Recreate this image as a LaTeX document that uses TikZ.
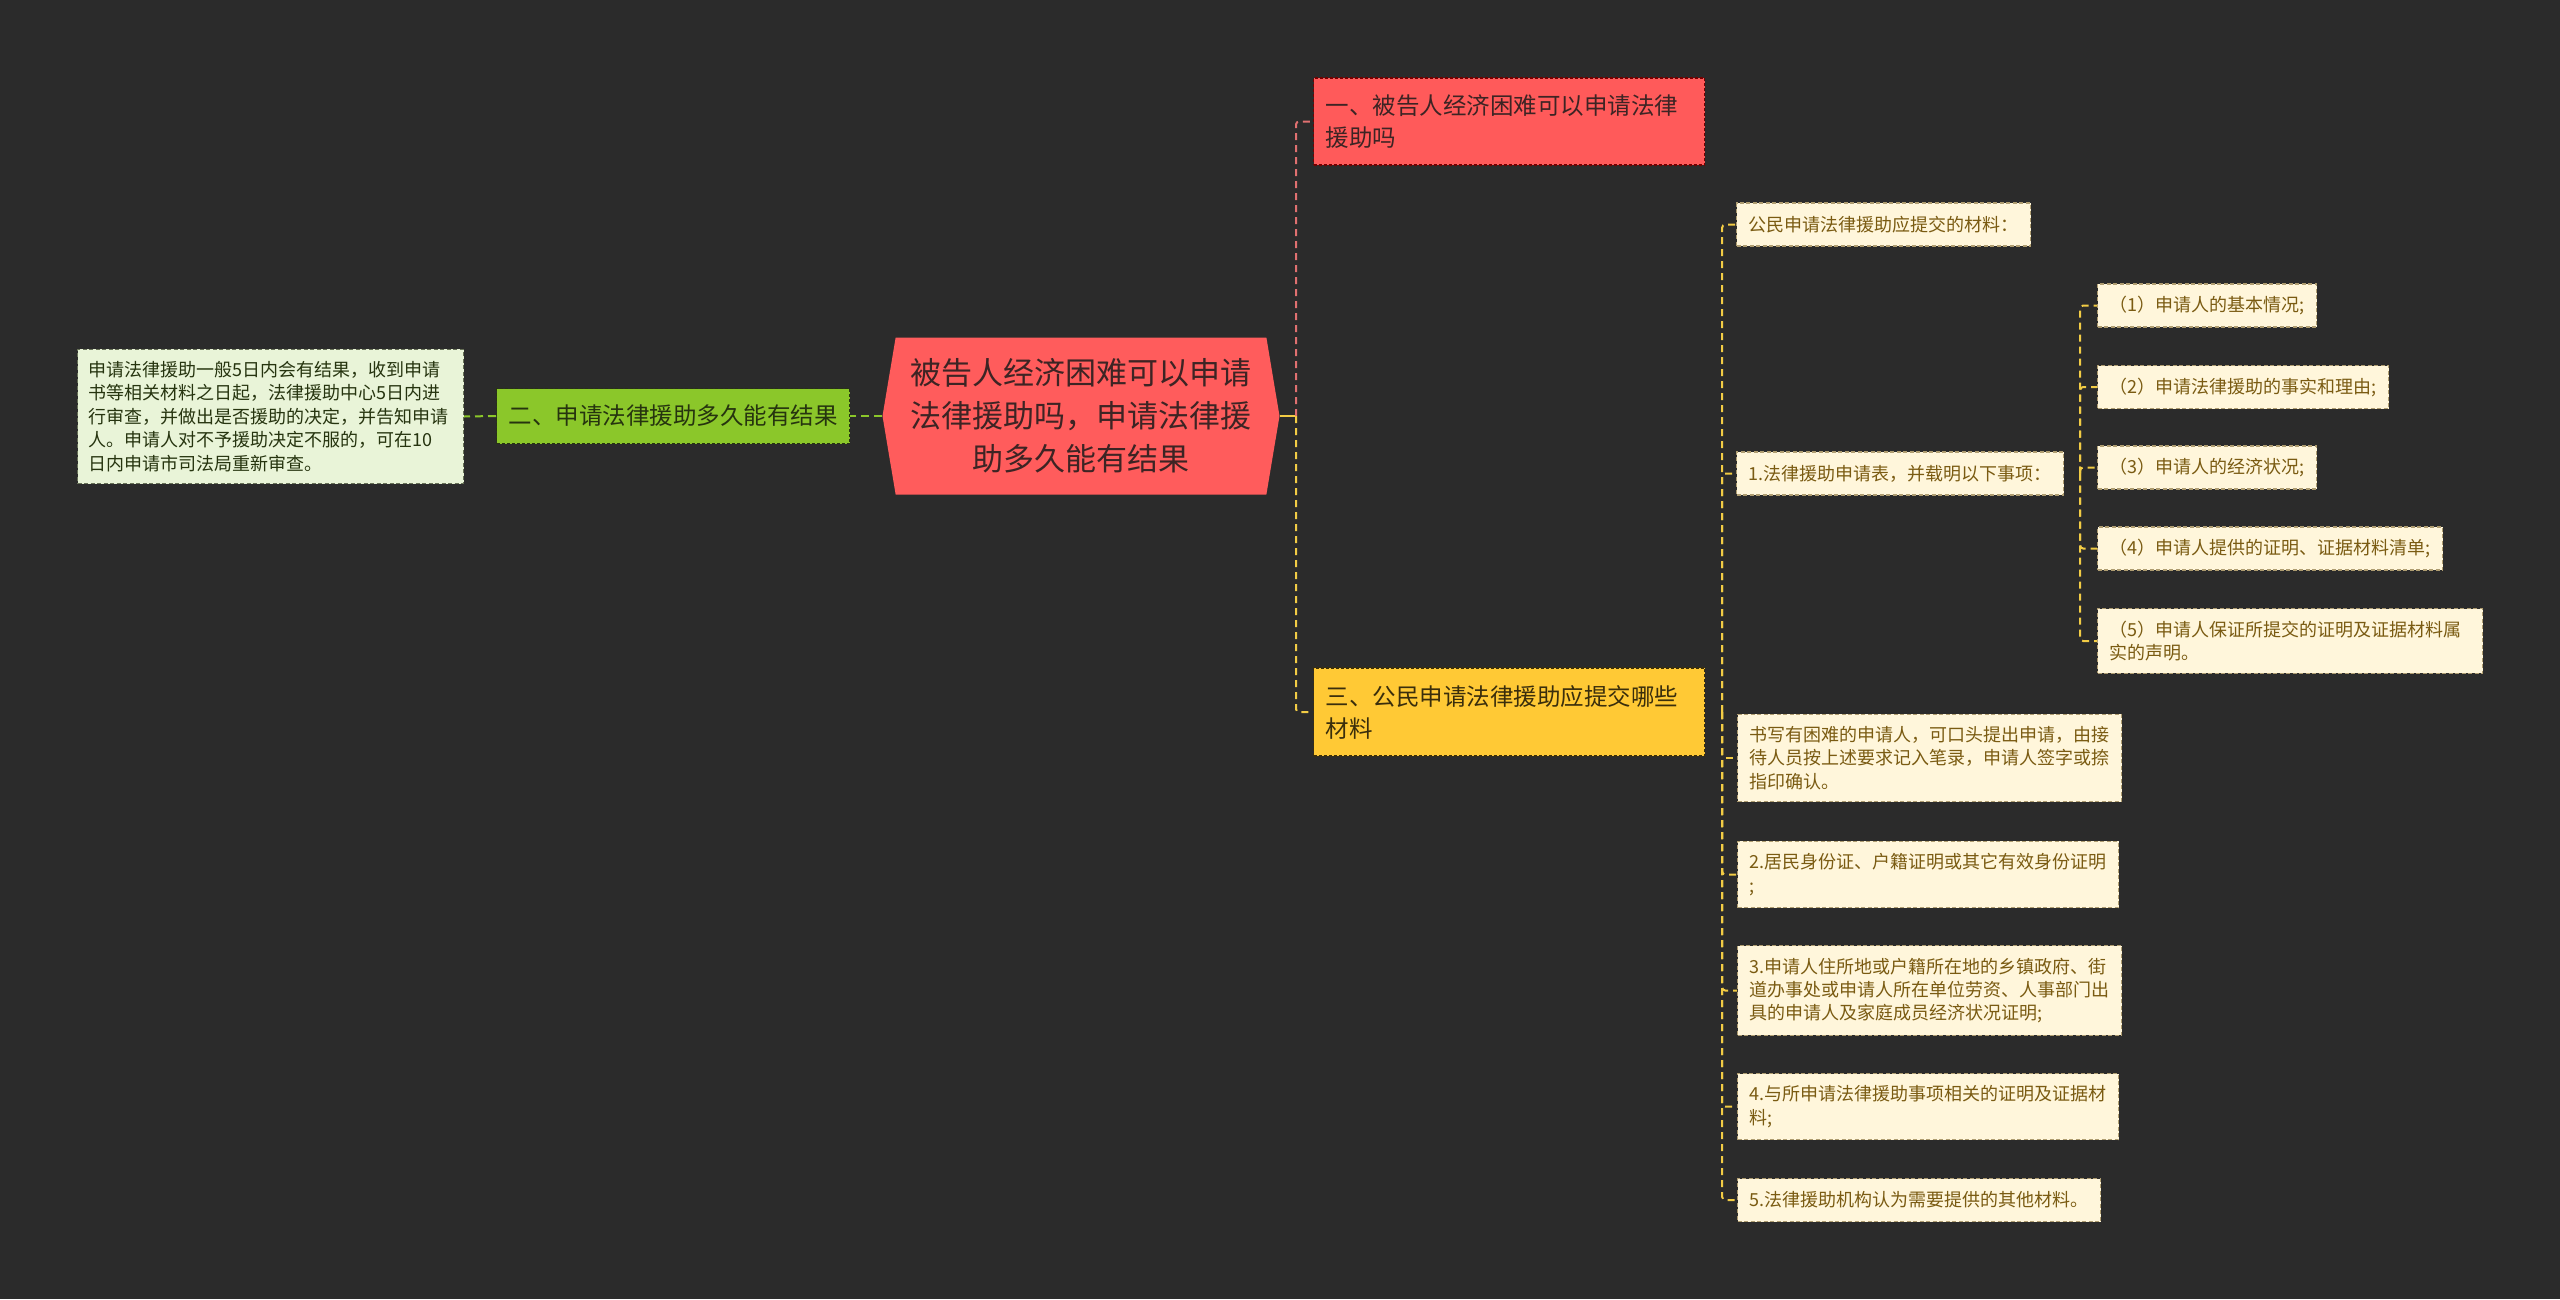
\documentclass[tikz,border=0pt]{standalone}
\usepackage{fontspec}
\setmainfont{Noto Sans CJK SC}
\usepackage{xcolor}
\usetikzlibrary{positioning, calc, shapes.symbols}
\definecolor{canvas}   {HTML}{2B2B2B}
\definecolor{topic}    {HTML}{FF5C5C}
\definecolor{topicink} {HTML}{3D2424}
\definecolor{redbr}    {HTML}{FF5A5A}
\definecolor{redline}  {HTML}{E07070}
\definecolor{greenbr}  {HTML}{8BC72A}
\definecolor{greenink} {HTML}{26340F}
\definecolor{greenleaf}{HTML}{E9F4D8}
\definecolor{yellowbr} {HTML}{FFC935}
\definecolor{yellowink}{HTML}{3A2E0C}
\definecolor{cream}    {HTML}{FFF6DB}
\definecolor{creamink} {HTML}{7A5B12}
\definecolor{yline}    {HTML}{F2CC45}

\begin{document}
\begin{tikzpicture}[x=1pt, y=-1pt,
  % Centre topic: a flat hexagon, pointed on both sides.
  rootbox/.style={shape=signal, signal to=west and east, signal pointer angle=161,
                  fill=topic, minimum width=397pt, minimum height=157pt, inner sep=0pt,
                  align=center, text=topicink, font=\fontsize{31}{43}\selectfont},
  branch/.style={draw, densely dashed, line width=1.2pt, anchor=west, align=left,
                 inner xsep=12pt, inner ysep=10pt, minimum height=55pt,
                 font=\fontsize{23.5}{32}\selectfont},
  leaf/.style={draw=#1, dash pattern=on 4pt off 2.5pt, line width=1.2pt, anchor=west,
               align=left, inner xsep=12pt, inner ysep=12pt, minimum height=43pt,
               font=\fontsize{18}{23.4}\selectfont},
  gline/.style={greenbr, line width=2pt, dash pattern=on 8pt off 5pt},
  rline/.style={redline, line width=2pt, dash pattern=on 7pt off 5pt},
  yyline/.style={yline, line width=2pt, dash pattern=on 7pt off 5pt, rounded corners=3pt}
]
\fill[canvas] (0,0) rectangle (2560,1299);
\useasboundingbox (0,0) rectangle (2560,1299);

% --- Centre topic ---
\node[rootbox] (root) at (1081,416) {被告人经济困难可以申请\\法律援助吗，申请法律援\\助多久能有结果};

% --- Main branches ---
\node[branch, fill=redbr, draw=red!45!black, text=topicink, text width=367pt,
      minimum height=87pt] (b1) at (1313,121.5) {一、被告人经济困难可以申请法律\\援助吗};
\node[branch, fill=greenbr, draw=greenink, text=greenink] (b2) at (496,416) {二、申请法律援助多久能有结果};
\node[branch, fill=yellowbr, draw=yellowink, text=yellowink, text width=367pt,
      minimum height=88pt] (b3) at (1313,712) {三、公民申请法律援助应提交哪些\\材料};

% --- Answer to branch two ---
\node[leaf=greenink!70, fill=greenleaf, text=greenink, inner xsep=11pt, text width=364pt] (ans) at (77,416.5)
  {申请法律援助一般5日内会有结果，收到申请\\书等相关材料之日起，法律援助中心5日内进\\行审查，并做出是否援助的决定，并告知申请\\人。申请人对不予援助决定不服的，可在10\\日内申请市司法局重新审查。};

% --- Materials under branch three ---
\node[leaf=creamink!60, fill=cream, text=creamink] (m0) at (1736,224.5) {公民申请法律援助应提交的材料：};
\node[leaf=creamink!60, fill=cream, text=creamink] (m1) at (1736,473.5) {1.法律援助申请表，并载明以下事项：};
\node[leaf=creamink!60, fill=cream, text=creamink] (m2) at (1737,758)
  {书写有困难的申请人，可口头提出申请，由接\\待人员按上述要求记入笔录，申请人签字或捺\\指印确认。};
\node[leaf=creamink!60, fill=cream, text=creamink] (m3) at (1737,874.5) {2.居民身份证、户籍证明或其它有效身份证明\\;};
\node[leaf=creamink!60, fill=cream, text=creamink] (m4) at (1737,990.5)
  {3.申请人住所地或户籍所在地的乡镇政府、街\\道办事处或申请人所在单位劳资、人事部门出\\具的申请人及家庭成员经济状况证明;};
\node[leaf=creamink!60, fill=cream, text=creamink] (m5) at (1737,1106.5) {4.与所申请法律援助事项相关的证明及证据材\\料;};
\node[leaf=creamink!60, fill=cream, text=creamink] (m6) at (1737,1200) {5.法律援助机构认为需要提供的其他材料。};

% --- Items of the application form ---
\node[leaf=creamink!60, fill=cream, text=creamink] (s1) at (2097,305.5) {（1）申请人的基本情况;};
\node[leaf=creamink!60, fill=cream, text=creamink] (s2) at (2097,387) {（2）申请法律援助的事实和理由;};
\node[leaf=creamink!60, fill=cream, text=creamink] (s3) at (2097,467.5) {（3）申请人的经济状况;};
\node[leaf=creamink!60, fill=cream, text=creamink] (s4) at (2097,548.5) {（4）申请人提供的证明、证据材料清单;};
\node[leaf=creamink!60, fill=cream, text=creamink, text width=361pt] (s5) at (2097,641) {（5）申请人保证所提交的证明及证据材料属\\实的声明。};

% --- Connectors ---
\coordinate (hub) at (1296,416);
\draw[yline, line width=2pt] (root.east) -- (hub);
\draw[rline, rounded corners=3pt] (hub) |- (b1.west);
\draw[yyline] (hub) |- (b3.west);
\draw[gline] (root.west) -- (b2.east);
\draw[gline] (b2.west) -- (ans.east);

\coordinate (mhub) at ($(b3.east)+(17,0)$);
\foreach \n in {m0,m1,m2,m3,m4,m5,m6}
  \draw[yyline] (mhub) |- (\n.west);

\coordinate (shub) at ($(m1.east)+(16,0)$);
\foreach \n in {s1,s2,s3,s4,s5}
  \draw[yyline] (shub) |- (\n.west);

\end{tikzpicture}
\end{document}
